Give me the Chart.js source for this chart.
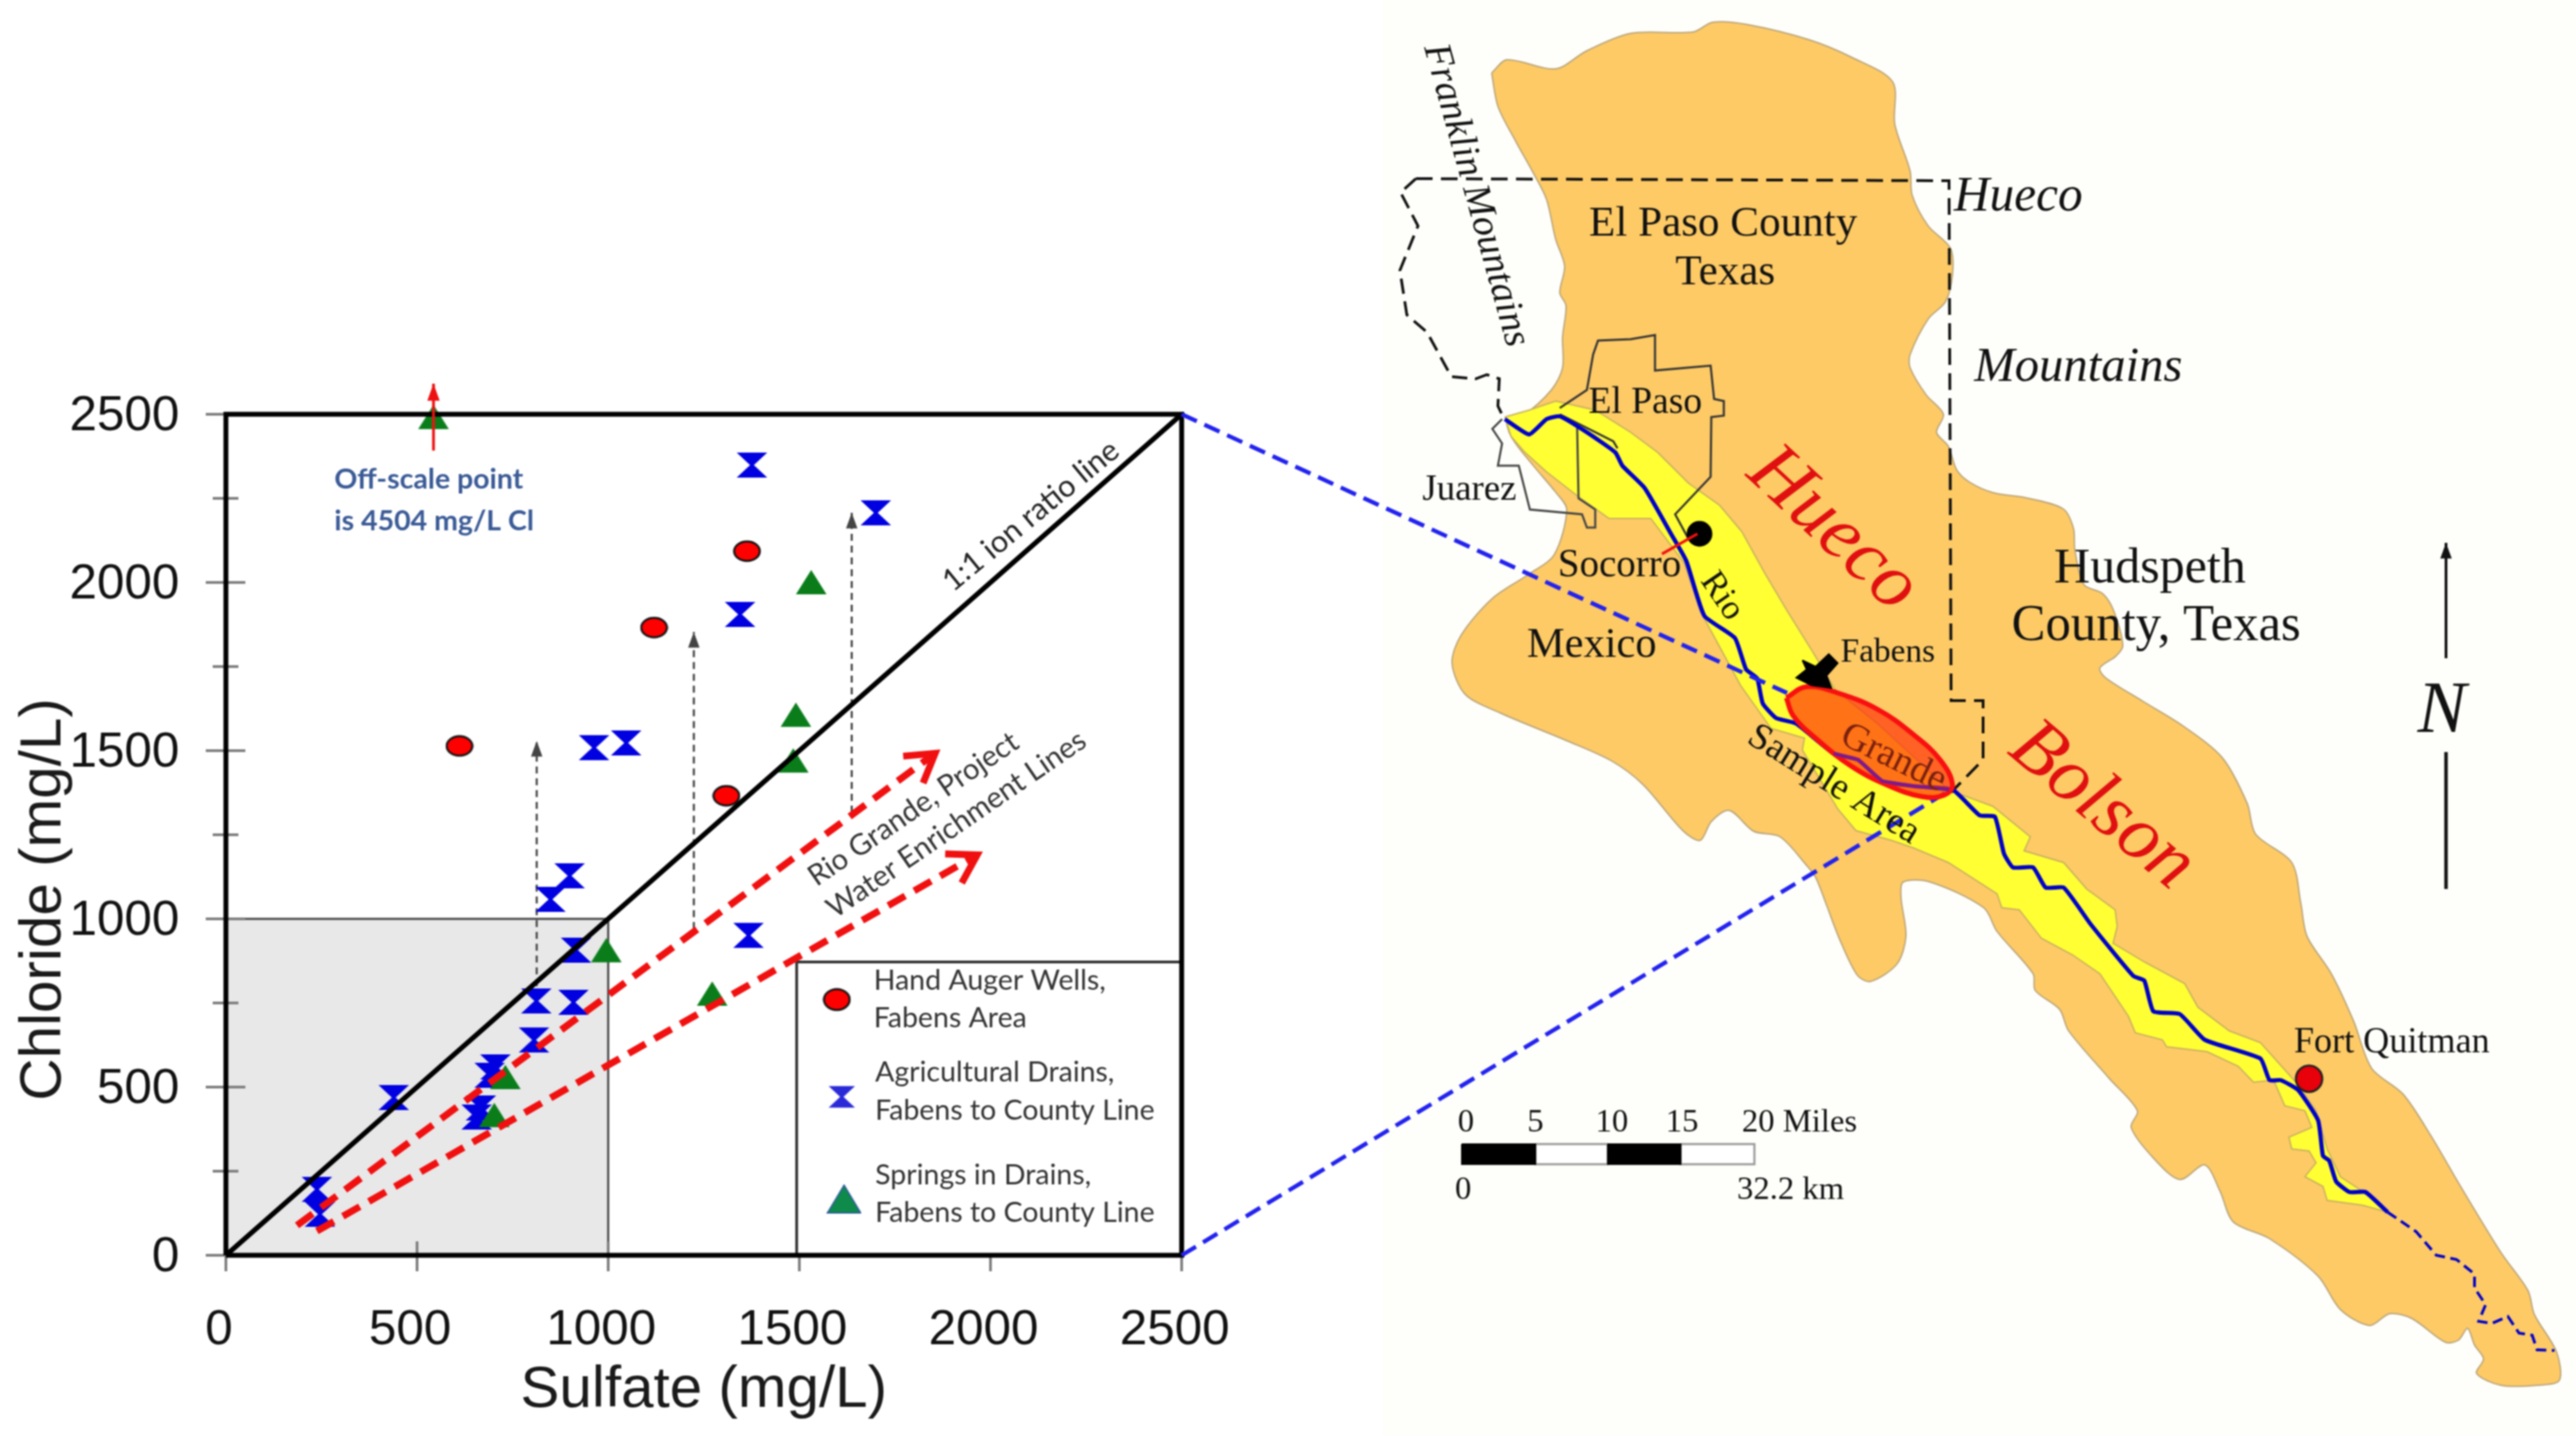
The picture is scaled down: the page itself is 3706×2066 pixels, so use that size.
<!DOCTYPE html>
<html>
<head>
<meta charset="utf-8">
<title>Chloride vs sulfate, Hueco Bolson</title>
<script src="https://cdn.jsdelivr.net/npm/chart.js@4"></script>
<style>
  html, body { margin: 0; width: 3706px; height: 2066px; overflow: hidden;
    background: linear-gradient(to right, #fff 1990px, #fefefb 1990px); }
  canvas { position: absolute; left: 0; top: 0; filter: blur(0.8px); }
</style>
</head>
<body>
<canvas id="plot" width="3706" height="2066"></canvas>
<canvas id="map" width="3706" height="2066"></canvas>
<script>
// ---- scatter values (mg/L)
const xTicks = [0, 500, 1000, 1500, 2000, 2500];
const yTicks = [0, 250, 500, 750, 1000, 1250, 1500, 1750, 2000, 2250, 2500];
const yLabelled = [0, 500, 1000, 1500, 2000, 2500];

const wellsSulfate  = [611, 1120, 1363, 1309];
const wellsChloride = [1514, 1866, 2093, 1366];

const drainsSulfate  = [1376, 1700, 1345, 1367, 963, 1047, 899, 849, 916, 812, 909, 806, 705, 690, 439, 667, 656, 238, 246];
const drainsChloride = [2349, 2207, 1905, 951, 1509, 1523, 1128, 1058, 907, 756, 752, 640, 560, 535, 469, 438, 411, 196, 122];

const springsSulfate  = [543, 1531, 1491, 1484, 1272, 995, 731, 702];
const springsChloride = [2492, 2001, 1607, 1471, 778, 907, 530, 417];

const ratioLine = [[0, 0], [2500, 2500]];
const lowRangeBox = [[0, 0], [0, 1000], [1000, 1000], [1000, 0], [0, 0]];
const legendBox = [[1493, 0], [1493, 872], [2500, 872], [2500, 0], [1493, 0]];
const plotFrame = [[0, 0], [0, 2500], [2500, 2500], [2500, 0], [0, 0]];
const enrichA = [[186, 89], [1855, 1492]];
const enrichB = [[238, 72], [1965, 1190]];
const riseA = [[813, 800], [813, 1529]];
const riseB = [[1224, 970], [1224, 1853]];
const riseC = [[1637, 1316], [1637, 2207]];
const offScale = [[543, 2392], [543, 2591]];
const legendKeys = { well: [[1598, 760]], drain: [[1611, 471]], spring: [[1617, 167]] };

// ---- map outlines, in map units
const basin = [[2146,105],[2168,86],[2238,99],[2283,73],[2346,48],[2436,46],[2464,32],[2512,35],[2602,57],[2665,83],[2723,118],[2726,179],[2748,246],[2751,281],[2774,325],[2806,357],[2809,395],[2799,434],[2774,459],[2748,510],[2748,529],[2771,568],[2796,596],[2786,622],[2803,642],[2815,676],[2834,694],[2868,709],[2914,716],[2968,732],[2983,760],[2985,791],[2998,841],[3025,854],[3041,879],[3054,929],[3044,944],[3021,961],[3029,975],[3083,1009],[3140,1044],[3197,1090],[3233,1156],[3245,1200],[3297,1241],[3310,1299],[3319,1347],[3354,1401],[3386,1469],[3412,1537],[3457,1574],[3496,1632],[3540,1707],[3598,1802],[3637,1857],[3646,1891],[3678,1945],[3682,1986],[3650,1993],[3598,1993],[3563,1976],[3573,1955],[3560,1935],[3550,1911],[3537,1928],[3518,1931],[3470,1897],[3438,1890],[3409,1907],[3367,1884],[3335,1836],[3265,1782],[3213,1758],[3194,1714],[3172,1676],[3136,1697],[3098,1666],[3066,1622],[3075,1598],[3034,1551],[2976,1483],[2963,1452],[2928,1425],[2925,1401],[2873,1340],[2854,1306],[2777,1269],[2738,1269],[2735,1292],[2742,1347],[2729,1387],[2691,1412],[2672,1403],[2646,1350],[2627,1300],[2612,1262],[2599,1245],[2561,1204],[2523,1196],[2488,1166],[2462,1182],[2446,1209],[2421,1195],[2364,1129],[2319,1095],[2255,1066],[2159,1026],[2108,999],[2089,954],[2102,914],[2147,861],[2198,827],[2236,798],[2254,733],[2238,708],[2206,670],[2174,628],[2168,600],[2193,596],[2232,561],[2248,529],[2248,485],[2253,440],[2244,421],[2251,383],[2238,344],[2225,287],[2206,249],[2181,204],[2155,153],[2146,105]];
const floodplain = [[2165,600],[2200,590],[2238,577],[2295,590],[2346,622],[2385,651],[2429,695],[2474,727],[2506,765],[2538,823],[2570,877],[2608,938],[2640,992],[2700,1040],[2760,1095],[2804,1137],[2867,1160],[2921,1204],[2912,1224],[2969,1241],[3002,1279],[3043,1309],[3046,1333],[3040,1357],[3085,1384],[3143,1415],[3162,1449],[3207,1483],[3252,1500],[3303,1557],[3332,1598],[3348,1653],[3367,1693],[3399,1714],[3435,1744],[3399,1734],[3348,1727],[3342,1707],[3316,1693],[3332,1673],[3322,1656],[3297,1653],[3293,1636],[3326,1622],[3316,1598],[3287,1591],[3271,1554],[3242,1557],[3220,1534],[3175,1513],[3117,1506],[3111,1496],[3072,1486],[3062,1462],[3021,1401],[2982,1374],[2937,1350],[2905,1309],[2880,1306],[2873,1286],[2803,1241],[2753,1220],[2721,1209],[2670,1195],[2644,1164],[2593,1079],[2596,1062],[2548,1048],[2504,986],[2446,879],[2423,810],[2375,746],[2315,746],[2270,714],[2225,679],[2193,650],[2174,628],[2165,600]];
const river = [[2165,603],[2200,625],[2225,603],[2244,599],[2283,622],[2324,651],[2334,670],[2366,702],[2404,768],[2426,807],[2452,886],[2496,918],[2512,963],[2528,976],[2536,1012],[2555,1033],[2584,1041],[2638,1084],[2673,1093],[2708,1124],[2753,1131],[2809,1136],[2848,1173],[2870,1175],[2883,1228],[2896,1248],[2925,1248],[2943,1277],[2969,1277],[3008,1330],[3069,1404],[3085,1411],[3098,1455],[3136,1459],[3172,1496],[3252,1523],[3265,1554],[3281,1554],[3306,1568],[3335,1612],[3342,1663],[3351,1670],[3361,1700],[3380,1715],[3403,1715],[3435,1744]];
const riverInSampleArea = [[2638,1084],[2673,1093],[2708,1124],[2753,1131],[2804,1136]];
const riverLower = [[3435,1744],[3476,1772],[3505,1806],[3534,1812],[3560,1833],[3560,1853],[3576,1877],[3566,1901],[3585,1904],[3608,1894],[3624,1918],[3643,1921],[3650,1942],[3675,1943]];
const countyLine = [[2037,257],[2804,260],[2807,1008],[2853,1008],[2853,1093],[2807,1140]];
const franklinLine = [[2037,257],[2015,277],[2040,325],[2014,389],[2024,453],[2053,478],[2088,542],[2123,545],[2139,539],[2157,545],[2155,584],[2163,601]];
const elPasoCity = [[2244,587],[2283,561],[2292,510],[2299,490],[2346,488],[2381,482],[2381,533],[2461,526],[2466,574],[2480,577],[2480,598],[2462,600],[2461,686],[2410,740],[2429,775]];
const elPasoRiverEdge = [[2244,596],[2321,635],[2327,645]];
const juarezCity = [[2161,603],[2147,617],[2161,638],[2155,670],[2185,670],[2201,733],[2276,740],[2283,759],[2295,759],[2295,733],[2271,717],[2269,615]];
const sampleArea = [[2570,1004],[2599,988],[2644,997],[2702,1021],[2753,1057],[2791,1093],[2809,1129],[2797,1144],[2765,1146],[2714,1129],[2663,1102],[2612,1062],[2580,1030],[2570,1004]];
const fabensMark = [[2593,950],[2612,959],[2631,941],[2644,954],[2628,972],[2635,990],[2606,986],[2584,975],[2599,963],[2593,950]];
const socorroLeader = [[2442,768],[2391,797]];
const socorroDot = [[2445,768]];
const quitmanDot = [[3322,1552]];
const connectorTop = [[1700,596],[2571,997]];
const connectorBottom = [[1700,1806],[2800,1140]];
const barDarkA = [[2103,1646],[2209,1646],[2209,1675],[2103,1675],[2103,1646]];
const barLightA = [[2209,1646],[2313,1646],[2313,1675],[2209,1675],[2209,1646]];
const barDarkB = [[2313,1646],[2418,1646],[2418,1675],[2313,1675],[2313,1646]];
const barLightB = [[2418,1646],[2524,1646],[2524,1675],[2418,1675],[2418,1646]];
const northUp = [[3519,947],[3519,781]];
const northDown = [[3519,1082],[3519,1279]];

const SANS = '"Liberation Sans"', SERIF = '"Liberation Serif"', SOFT = 'Lato';
// text, x, y, rotation in degrees, font, colour
const pageLabels = [
  ['Chloride (mg/L)', 64, 1294, -90, `84px ${SANS}`, '#1a1a1a'],
  ['Off-scale point', 481, 690, 0, `bold 41px ${SOFT}`, '#3a5a96', 'left'],
  ['is 4504 mg/L Cl', 481, 750, 0, `bold 41px ${SOFT}`, '#3a5a96', 'left'],
  ['1:1 ion ratio line', 1483, 742, -39.5, `44px ${SOFT}`, '#222'],
  ['Rio Grande, Project', 1314, 1164, -34.5, `42px ${SOFT}`, '#333'],
  ['Water Enrichment Lines', 1376, 1186, -34.5, `42px ${SOFT}`, '#333'],
  ['Hand Auger Wells,', 1257, 1411, 0, `41px ${SOFT}`, '#333', 'left'],
  ['Fabens Area', 1257, 1465, 0, `41px ${SOFT}`, '#333', 'left'],
  ['Agricultural Drains,', 1259, 1543, 0, `41px ${SOFT}`, '#333', 'left'],
  ['Fabens to County Line', 1259, 1598, 0, `41px ${SOFT}`, '#333', 'left'],
  ['Springs in Drains,', 1259, 1691, 0, `41px ${SOFT}`, '#333', 'left'],
  ['Fabens to County Line', 1259, 1745, 0, `41px ${SOFT}`, '#333', 'left'],
  ['Franklin Mountains', 2123, 281, 74.5, `italic 56px ${SERIF}`, '#111'],
  ['El Paso County', 2479, 323, 0, `62px ${SERIF}`, '#111'],
  ['Texas', 2482, 393, 0, `62px ${SERIF}`, '#111'],
  ['El Paso', 2367, 580, 0, `54px ${SERIF}`, '#111'],
  ['Juarez', 2114, 705, 0, `53px ${SERIF}`, '#111'],
  ['Socorro', 2330, 814, 0, `56px ${SERIF}`, '#111'],
  ['Mexico', 2290, 929, 0, `61px ${SERIF}`, '#111'],
  ['Fabens', 2716, 939, 0, `48px ${SERIF}`, '#111'],
  ['Hueco', 2637, 762, 43, `italic 112px ${SERIF}`, '#e01010'],
  ['Bolson', 3024, 1160, 40, `italic 112px ${SERIF}`, '#e01010'],
  ['Hueco', 2811, 284, 0, `italic 71px ${SERIF}`, '#111', 'left'],
  ['Mountains', 2990, 530, 0, `italic 70px ${SERIF}`, '#111'],
  ['Hudspeth', 3093, 819, 0, `72px ${SERIF}`, '#111'],
  ['County, Texas', 3102, 902, 0, `73px ${SERIF}`, '#111'],
  ['Rio', 2477, 858, 55.7, `50px ${SERIF}`, '#111'],
  ['Grande', 2724, 1091, 26, `55px ${SERIF}`, '#7a2010'],
  ['Sample Area', 2638, 1129, 31.8, `54px ${SERIF}`, '#111'],
  ['Fort Quitman', 3441, 1500, 0, `52px ${SERIF}`, '#111'],
  ['N', 3513, 1025, 0, `italic 105px ${SERIF}`, '#111'],
  ['0', 2109, 1616, 0, `47px ${SERIF}`, '#111'],
  ['5', 2209, 1616, 0, `47px ${SERIF}`, '#111'],
  ['10', 2319, 1616, 0, `47px ${SERIF}`, '#111'],
  ['15', 2420, 1616, 0, `47px ${SERIF}`, '#111'],
  ['20 Miles', 2506, 1616, 0, `47px ${SERIF}`, '#111', 'left'],
  ['0', 2105, 1713, 0, `47px ${SERIF}`, '#111'],
  ['32.2 km', 2499, 1713, 0, `47px ${SERIF}`, '#111', 'left'],
];

// ---- marker sprites
function sprite(w, h, paint) {
  const c = document.createElement('canvas');
  c.width = w; c.height = h;
  paint(c.getContext('2d'), w, h);
  return c;
}
function oval(fill, line) {
  return (g, w, h) => {
    g.beginPath();
    g.ellipse(w / 2, h / 2, w / 2 - 2, h / 2 - 2, 0, 0, Math.PI * 2);
    g.fillStyle = fill; g.fill();
    g.lineWidth = 3; g.strokeStyle = line; g.stroke();
  };
}
function hourglass(fill) {
  return (g, w, h) => {
    const waist = w * 0.06;
    g.beginPath();
    g.moveTo(1, 1); g.lineTo(w - 1, 1);
    g.lineTo(w / 2 + waist, h / 2); g.lineTo(w - 1, h - 1);
    g.lineTo(1, h - 1); g.lineTo(w / 2 - waist, h / 2);
    g.closePath();
    g.fillStyle = fill; g.fill();
  };
}
function triangle(fill, line) {
  return (g, w, h) => {
    g.beginPath();
    g.moveTo(w / 2, 1); g.lineTo(w - 1, h - 1); g.lineTo(1, h - 1);
    g.closePath();
    g.fillStyle = fill; g.fill();
    if (line) { g.lineWidth = 2; g.strokeStyle = line; g.stroke(); }
  };
}
const wellIcon = sprite(41, 32, oval('#f00', '#111'));
const drainIcon = sprite(46, 38, hourglass('#0000e0'));
const springIcon = sprite(46, 37, triangle('#0a7d1a'));
const wellKey = sprite(41, 34, oval('#f00', '#111'));
const drainKey = sprite(40, 33, hourglass('#2a2ad8'));
const springKey = sprite(50, 42, triangle('#0e8a4a', '#2a5a9a'));
const quitmanIcon = sprite(42, 42, oval('#e8000a', '#222'));
const socorroIcon = sprite(38, 38, oval('#000', '#000'));

const toPoints = pairs => pairs.map(([x, y]) => ({ x, y }));
const zip = (xs, ys) => xs.map((x, i) => ({ x, y: ys[i] }));

function path(pairs, color, width, extra) {
  return Object.assign({ data: toPoints(pairs), showLine: true, borderColor: color,
    borderWidth: width, pointRadius: 0, clip: false, fill: false, borderCapStyle: 'butt' }, extra);
}
function marks(points, icon, radius) {
  return { data: points, showLine: false, pointStyle: icon, pointRadius: radius, clip: false };
}
function area(pairs, fill, line, width, extra) {
  return path(pairs, line, width, Object.assign({ fill: 'shape', backgroundColor: fill }, extra));
}
// later entries sit on top
const stack = list => list.map((d, i) => Object.assign(d, { order: list.length - i }));

// ---- inline plugins
const arrowHeads = {
  id: 'arrowHeads',
  afterDatasetsDraw(chart) {
    const { ctx } = chart;
    chart.data.datasets.forEach((d, i) => {
      if (!d.head) return;
      const pts = chart.getDatasetMeta(i).data;
      const a = pts[pts.length - 2], b = pts[pts.length - 1];
      const t = Math.atan2(b.y - a.y, b.x - a.x);
      const L = d.head.size, s = d.head.spread;
      ctx.save();
      ctx.beginPath();
      ctx.moveTo(b.x - L * Math.cos(t - s), b.y - L * Math.sin(t - s));
      ctx.lineTo(b.x, b.y);
      ctx.lineTo(b.x - L * Math.cos(t + s), b.y - L * Math.sin(t + s));
      if (d.head.open) {
        ctx.lineWidth = d.borderWidth; ctx.strokeStyle = d.borderColor; ctx.stroke();
      } else {
        ctx.closePath(); ctx.fillStyle = d.borderColor; ctx.fill();
      }
      ctx.restore();
    });
  },
};

const crossTicks = {
  id: 'crossTicks',
  afterDatasetDraw(chart, args) {
    if (chart.data.datasets[args.index].label !== 'low range') return;
    const { ctx, scales: { x, y } } = chart;
    ctx.save();
    ctx.strokeStyle = '#808080';
    ctx.lineWidth = 4;
    ctx.beginPath();
    yTicks.forEach(v => {
      const p = y.getPixelForValue(v);
      const major = yLabelled.includes(v);
      ctx.moveTo(x.left - (major ? 29 : 19), p);
      ctx.lineTo(x.left + (major ? 28 : 18), p);
    });
    xTicks.forEach(v => {
      const p = x.getPixelForValue(v);
      ctx.moveTo(p, y.bottom - 20);
      ctx.lineTo(p, y.bottom + 23);
    });
    ctx.stroke();
    ctx.restore();
  },
};

const pageText = {
  id: 'pageText',
  afterDraw(chart) {
    const { ctx, scales: { x, y } } = chart;
    pageLabels.forEach(([text, px, py, rot, font, color, align]) => {
      ctx.save();
      ctx.translate(x.getPixelForValue(px), y.getPixelForValue(py));
      ctx.rotate(rot * Math.PI / 180);
      ctx.font = font;
      ctx.fillStyle = color;
      ctx.textAlign = align || 'center';
      ctx.textBaseline = 'middle';
      ctx.fillText(text, 0, 0);
      ctx.restore();
    });
  },
};

const quiet = { legend: { display: false }, tooltip: { enabled: false } };

// ---- the scatter plot
new Chart(document.getElementById('plot'), {
  type: 'scatter',
  data: {
    datasets: stack([
      area(lowRangeBox, '#e8e8e8', '#444', 3, { label: 'low range' }),
      area(legendBox, '#fff', '#333', 4),
      path(riseA, '#444', 3, { borderDash: [10, 7], head: { size: 24, spread: 0.35 } }),
      path(riseB, '#444', 3, { borderDash: [10, 7], head: { size: 24, spread: 0.35 } }),
      path(riseC, '#444', 3, { borderDash: [10, 7], head: { size: 24, spread: 0.35 } }),
      Object.assign(marks(zip(drainsSulfate, drainsChloride), drainIcon, 18), { label: 'Agricultural Drains, Fabens to County Line' }),
      Object.assign(marks(zip(springsSulfate, springsChloride), springIcon, 18), { label: 'Springs in Drains, Fabens to County Line' }),
      path(ratioLine, '#000', 7),
      Object.assign(marks(zip(wellsSulfate, wellsChloride), wellIcon, 18), { label: 'Hand Auger Wells, Fabens Area' }),
      path(enrichA, '#f01010', 10, { borderDash: [28, 15], head: { size: 46, spread: 0.55, open: true } }),
      path(enrichB, '#f01010', 10, { borderDash: [28, 15], head: { size: 46, spread: 0.55, open: true } }),
      path(plotFrame, '#000', 7, { borderJoinStyle: 'miter' }),
      path(offScale, '#ee1111', 4, { head: { size: 26, spread: 0.35 } }),
      marks(toPoints(legendKeys.well), wellKey, 18),
      marks(toPoints(legendKeys.drain), drainKey, 18),
      marks(toPoints(legendKeys.spring), springKey, 22),
    ]),
  },
  options: {
    responsive: false,
    animation: false,
    devicePixelRatio: 1,
    layout: { autoPadding: false, padding: { left: 0, top: 596, right: 2006, bottom: 0 } },
    plugins: quiet,
    scales: {
      x: {
        type: 'linear', min: 0, max: 2500,
        afterFit: s => { s.height = 260; },
        afterBuildTicks: s => { s.ticks = xTicks.map(value => ({ value })); },
        grid: { display: false, drawTicks: false },
        border: { display: false },
        ticks: {
          padding: 66, labelOffset: -10, maxRotation: 0, color: '#111',
          font: { family: 'Liberation Sans', size: 71 },
          callback: v => String(v),
        },
        title: { display: true, text: 'Sulfate (mg/L)', color: '#1a1a1a', font: { family: 'Liberation Sans', size: 84 }, padding: { top: 0, bottom: 15 } },
      },
      y: {
        type: 'linear', min: 0, max: 2500,
        afterFit: s => { s.width = 325; },
        afterBuildTicks: s => { s.ticks = yTicks.map(value => ({ value })); },
        grid: { display: false, drawTicks: false },
        border: { display: false },
        ticks: {
          padding: 67, labelOffset: 3, color: '#111', font: { family: 'Liberation Sans', size: 71 },
          callback: v => (yLabelled.includes(v) ? String(v) : ''),
        },
      },
    },
  },
  plugins: [crossTicks, arrowHeads],
});

// ---- the map, with the page texts on top
new Chart(document.getElementById('map'), {
  type: 'scatter',
  data: {
    datasets: stack([
      area(basin, '#fdca66', '#b9a478', 2, { tension: 0.3 }),
      area(floodplain, '#ffff33', '#c8b060', 2),
      path(franklinLine, '#111', 4, { borderDash: [22, 11] }),
      path(countyLine, '#111', 4, { borderDash: [24, 12] }),
      path(elPasoCity, '#333', 3),
      path(elPasoRiverEdge, '#333', 3),
      path(juarezCity, '#444', 3),
      path(river, '#0000c8', 6, { tension: 0.15 }),
      path(riverLower, '#0000c8', 4, { borderDash: [15, 8] }),
      path(connectorTop, '#2222ee', 6, { borderDash: [24, 12] }),
      path(connectorBottom, '#2222ee', 6, { borderDash: [24, 12] }),
      area(sampleArea, 'rgba(255,54,8,0.7)', '#f81010', 7, { tension: 0.4 }),
      path(riverInSampleArea, '#7a1a90', 5),
      area(fabensMark, '#000', '#000', 2),
      marks(toPoints(socorroDot), socorroIcon, 19),
      path(socorroLeader, '#f01010', 4),
      marks(toPoints(quitmanDot), quitmanIcon, 21),
      area(barLightA, '#fff', '#999', 3),
      area(barLightB, '#fff', '#999', 3),
      area(barDarkA, '#000', '#000', 2),
      area(barDarkB, '#000', '#000', 2),
      path(northUp, '#111', 4, { head: { size: 24, spread: 0.35 } }),
      path(northDown, '#111', 5),
    ]),
  },
  options: {
    responsive: false,
    animation: false,
    devicePixelRatio: 1,
    layout: { autoPadding: false, padding: 0 },
    plugins: quiet,
    scales: {
      x: { type: 'linear', min: 0, max: 3706, display: false },
      y: { type: 'linear', min: 0, max: 2066, reverse: true, display: false },
    },
  },
  plugins: [arrowHeads, pageText],
});
</script>
</body>
</html>
